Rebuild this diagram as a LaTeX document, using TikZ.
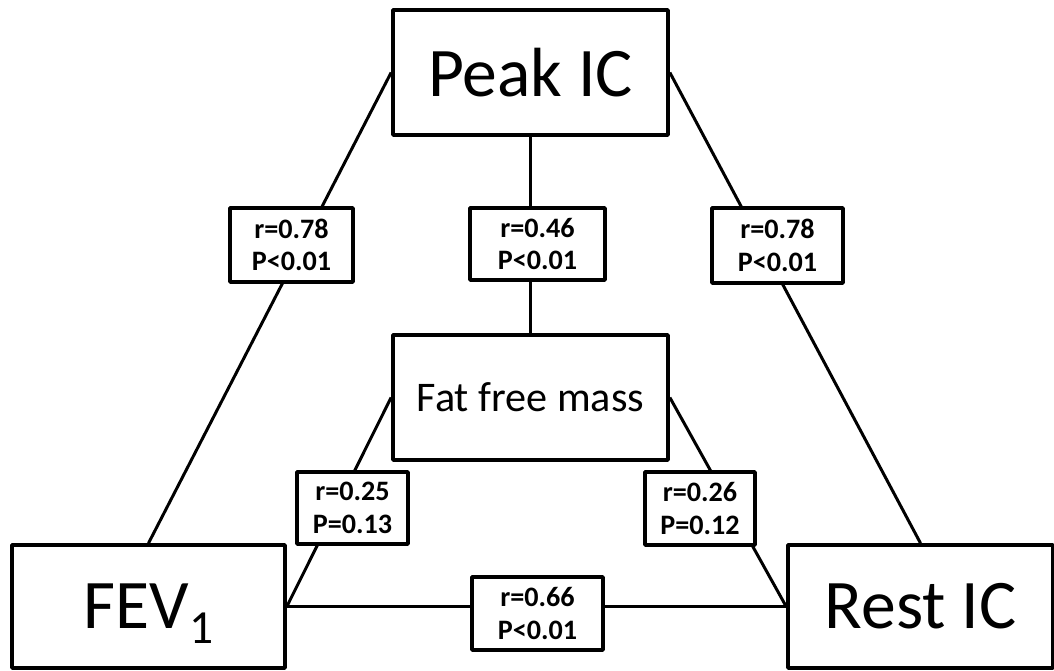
\documentclass[tikz,border=0pt]{standalone}
\usepackage{fontspec}
\setmainfont{Carlito}
\usetikzlibrary{positioning}

\tikzset{
  mainbox/.style={draw=black, line width=1pt, fill=white, inner sep=0pt,
    minimum width=2.75cm, minimum height=1.25cm, font=\fontsize{19.8}{22}\selectfont},
  statbox/.style={draw=black, line width=1pt, fill=white, inner sep=0pt,
    align=center, font=\fontsize{8}{9.2}\bfseries\selectfont},
  link/.style={line width=0.85pt, black}
}

\begin{document}
\begin{tikzpicture}[x=0.01cm, y=-0.01cm, line join=round]
\useasboundingbox (0,0) rectangle (1054,671);

% Measured boxes
\node[mainbox] (peak) at (530.5,72.5) {Peak IC};
\node[mainbox, font=\fontsize{12}{14}\selectfont] (fat) at (530.5,397.5) {Fat free mass};
\node[mainbox, minimum width=2.73cm, minimum height=1.23cm] (fev) at (148.5,606.5)
  {FEV\raisebox{-4.2pt}[0pt][0pt]{\fontsize{13.5}{13.5}\selectfont 1}};
\node[mainbox, minimum width=2.65cm, minimum height=1.23cm] (rest) at (920.5,606.5) {Rest IC};

% Correlation links
\draw[link] (peak.west) -- (fev.north);
\draw[link] (peak.east) -- (rest.north);
\draw[link] (peak.south) -- (fat.north);
\draw[link] (fat.west) -- (fev.east);
\draw[link] (fat.east) -- (rest.west);
\draw[link] (fev.east) -- (rest.west);

% Statistics, on top of the links
\node[statbox, minimum width=1.23cm, minimum height=0.74cm] (sPeakFev) at (291.5,245) {r=0.78\\P<0.01};
\node[statbox, minimum width=1.35cm, minimum height=0.72cm] (sPeakFat) at (537.5,244) {r=0.46\\P<0.01};
\node[statbox, minimum width=1.31cm, minimum height=0.75cm] (sPeakRest) at (777.5,245.5) {r=0.78\\P<0.01};
\node[statbox, minimum width=1.11cm, minimum height=0.72cm] (sFatFev) at (352.5,508) {r=0.25\\P=0.13};
\node[statbox, minimum width=1.10cm, minimum height=0.73cm] (sFatRest) at (700,508.5) {r=0.26\\P=0.12};
\node[statbox, minimum width=1.31cm, minimum height=0.73cm] (sFevRest) at (537.5,613.5) {r=0.66\\P<0.01};
\end{tikzpicture}
\end{document}
